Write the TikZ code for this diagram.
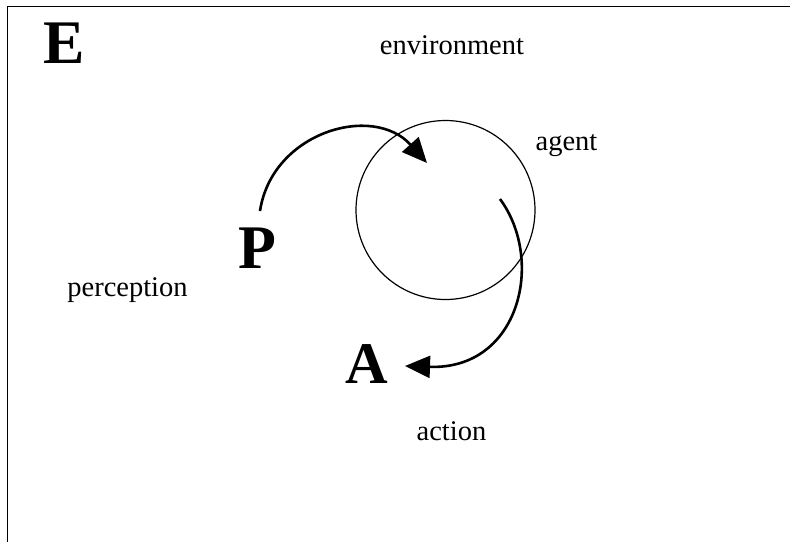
\documentclass[tikz,border=0pt]{standalone}
\usepackage{fontspec}
\setmainfont{Liberation Serif}
\usetikzlibrary{arrows.meta}
\tikzset{
  frameline/.style={line width=1.5pt, black},
  agentring/.style={draw, circle, line width=1.2pt, minimum size=179pt, inner sep=0pt},
  flow/.style={line width=2.6pt, -{Triangle[length=25pt, width=22pt]}},
  word/.style={inner sep=0pt, anchor=base, font=\fontsize{28.5}{30}\selectfont},
  letter/.style={inner sep=0pt, anchor=base, font=\fontsize{62}{64}\selectfont\bfseries},
}
\begin{document}
\begin{tikzpicture}[x=1pt, y=-1pt]
  \useasboundingbox (0,0) rectangle (790,542);
  % environment frame (open towards right and bottom)
  \coordinate (fcorner) at (7.5,6.5);
  \coordinate (fright) at (790,6.5);
  \coordinate (fbottom) at (7.5,542);
  \draw[frameline] (fright) -- (fcorner) -- (fbottom);

  % labels
  \node[letter] (E) at (64.5,63) {E};
  \node[word] (env) at (452,54) {environment};
  \node[word] (agentlbl) at (566.5,150) {agent};
  \node[letter] (P) at (257.5,268) {P};
  \node[word] (perc) at (127.5,296) {perception};
  \node[letter, font=\fontsize{59}{61}\selectfont\bfseries] (A) at (367,383) {A};
  \node[word] (act) at (451.5,440) {action};

  % the agent
  \node[agentring] (agent) at (445.5,210) {};

  % perception and action arrows
  \coordinate (pin) at (260,211);
  \coordinate (pout) at (427,163);
  \coordinate (ain) at (500,199);
  \coordinate (aout) at (405,366);
  \draw[flow] (pin) .. controls (272,132) and (373,103) .. (pout);
  \draw[flow] (ain) .. controls (545,260) and (520,370) .. (aout);
\end{tikzpicture}
\end{document}
